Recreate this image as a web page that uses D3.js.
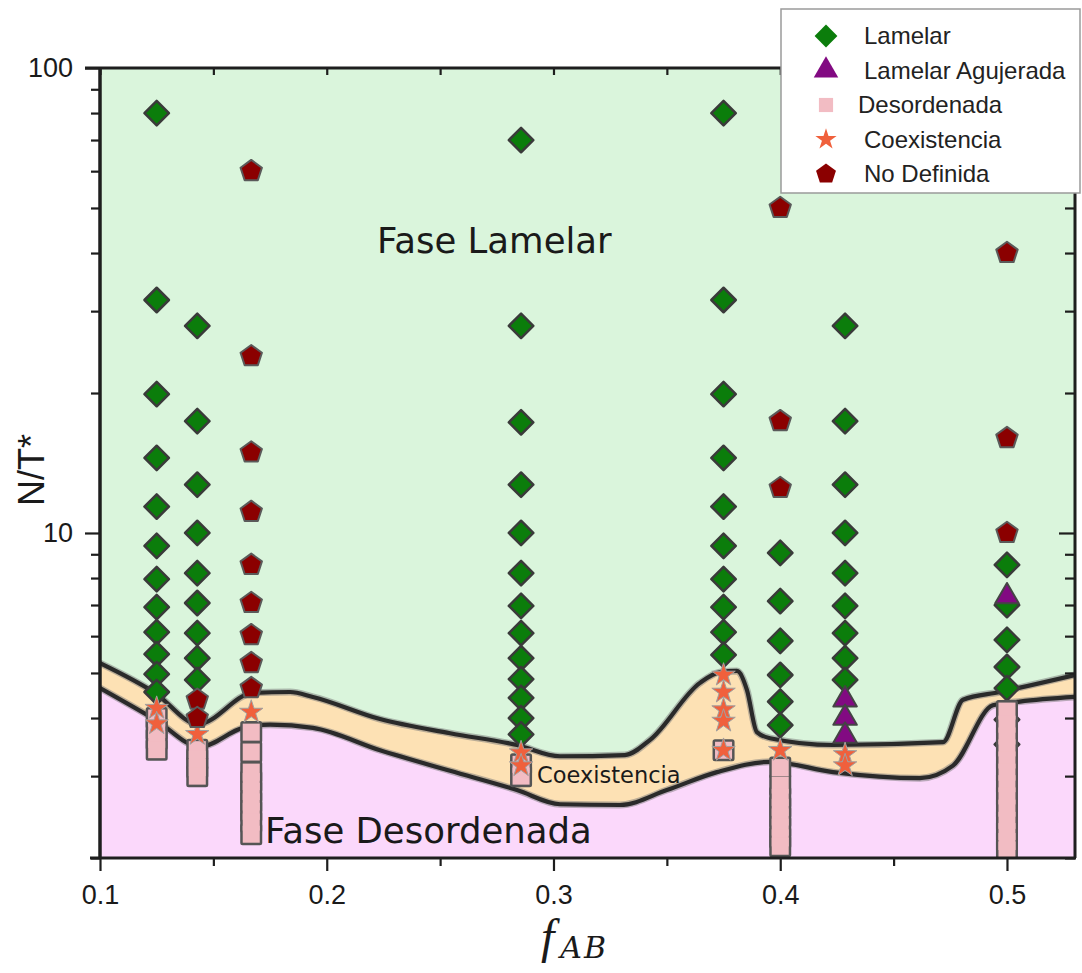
<!DOCTYPE html>
<html><head><meta charset="utf-8">
<script src="https://cdn.jsdelivr.net/npm/d3@7"></script>
<style>
html,body{margin:0;padding:0;background:#fff;}
svg{display:block;}
</style></head>
<body>
<svg id="chart" width="1082" height="973"></svg>
<script>
// ---------------- data ----------------
const lamelar = [
  [0.125,80],[0.125,31.7],[0.125,19.9],[0.125,14.5],[0.125,11.4],[0.125,9.38],[0.125,7.96],[0.125,6.93],[0.125,6.12],[0.125,5.49],[0.125,4.97],[0.125,4.55],
  [0.1429,27.9],[0.1429,17.4],[0.1429,12.7],[0.1429,10],[0.1429,8.2],[0.1429,7.07],[0.1429,6.09],[0.1429,5.38],[0.1429,4.83],
  [0.2857,70],[0.2857,27.9],[0.2857,17.3],[0.2857,12.7],[0.2857,10],[0.2857,8.2],[0.2857,6.97],[0.2857,6.09],[0.2857,5.38],[0.2857,4.85],[0.2857,4.42],[0.2857,4.0],[0.2857,3.69],
  [0.375,80],[0.375,31.7],[0.375,19.9],[0.375,14.5],[0.375,11.4],[0.375,9.38],[0.375,7.96],[0.375,6.93],[0.375,6.12],[0.375,5.47],
  [0.4,9.06],[0.4,7.14],[0.4,5.86],[0.4,4.95],[0.4,4.34],[0.4,3.86],
  [0.4286,27.9],[0.4286,17.4],[0.4286,12.7],[0.4286,10],[0.4286,8.2],[0.4286,6.97],[0.4286,6.09],[0.4286,5.38],[0.4286,4.83],
  [0.5,8.54],[0.5,7.0],[0.5,5.89],[0.5,5.15],[0.5,4.64],[0.5,3.97],[0.5,3.51]
];
const lamelarAgujerada = [
  [0.4286,4.38],[0.4286,4.0],[0.4286,3.66],
  [0.5,7.3]
];
const desordenada = [
  [0.125,4.0],[0.125,3.78],[0.125,3.6],[0.125,3.42],
  [0.1429,3.42],[0.1429,3.26],[0.1429,3.13],[0.1429,3.0],
  [0.1667,3.73],[0.1667,3.38],[0.1667,3.06],[0.1667,2.92],[0.1667,2.78],[0.1667,2.64],[0.1667,2.52],[0.1667,2.39],[0.1667,2.25],
  [0.2857,3.18],[0.2857,3.0],
  [0.375,3.41],
  [0.4,3.13],[0.4,2.87],[0.4,2.70],[0.4,2.57],[0.4,2.45],[0.4,2.33],[0.4,2.21],[0.4,2.12],
  [0.5,4.14],[0.5,3.88],[0.5,3.66],[0.5,3.45],[0.5,3.25],[0.5,3.06],[0.5,2.89],[0.5,2.72],[0.5,2.56],[0.5,2.41],[0.5,2.28],[0.5,2.17],[0.5,2.08]
];
const coexistencia = [
  [0.125,4.20],[0.125,3.89],
  [0.1429,3.69],
  [0.1667,4.12],
  [0.2857,3.37],[0.2857,3.16],
  [0.375,4.95],[0.375,4.55],[0.375,4.17],[0.375,3.94],[0.375,3.41],
  [0.4,3.41],
  [0.4286,3.34],[0.4286,3.16]
];
const noDefinida = [
  [0.1429,4.38],[0.1429,4.0],
  [0.1667,60],[0.1667,24],[0.1667,14.9],[0.1667,11.1],[0.1667,8.54],[0.1667,7.07],[0.1667,6.03],[0.1667,5.25],[0.1667,4.64],
  [0.4,50],[0.4,17.4],[0.4,12.5],
  [0.5,40],[0.5,16],[0.5,10]
];
// phase boundaries (f, N/T*)
const upperBoundary = [
  [0.1,5.25],[0.1243,4.53],[0.1432,3.88],[0.1675,4.53],[0.1838,4.55],[0.1939,4.44],[0.2235,3.98],[0.2544,3.71],
  [0.2839,3.50],[0.3029,3.31],[0.3315,3.33],[0.3426,3.59],[0.3646,4.76],[0.3734,5.02],[0.3809,5.05],[0.3853,4.60],
  [0.3897,3.73],[0.3955,3.62],[0.4233,3.50],[0.4718,3.55],[0.4806,4.38],[0.4969,4.55],[0.53,4.95]
];
const lowerBoundary = [
  [0.1,4.64],[0.1243,3.97],[0.1441,3.47],[0.1631,3.81],[0.175,3.87],[0.1939,3.81],[0.2235,3.41],[0.2544,3.08],
  [0.2839,2.80],[0.3029,2.61],[0.3293,2.60],[0.35,2.80],[0.3721,3.06],[0.3955,3.22],[0.4233,3.06],[0.4616,2.97],
  [0.4762,3.16],[0.4938,4.26],[0.5057,4.34],[0.53,4.44]
];
const xTicks = [0.1,0.2,0.3,0.4,0.5];
const xMinorTicks = [0.15,0.25,0.35,0.45];
const yTicks = [10,100];
const yMinorTicks = [2,3,4,5,6,7,8,9,20,30,40,50,60,70,80,90];
const legendItems = ["Lamelar","Lamelar Agujerada","Desordenada","Coexistencia","No Definida"];

// ---------------- layout ----------------
const L=100, R=1075, T=68, B=858;
const svg = d3.select("#chart");
const x = d3.scaleLinear().domain([0.1,0.53]).range([L,R]);
const y = d3.scaleLog().domain([2,100]).range([B,T]);

const cGreen="#daf5dc", cPeach="#fde1b4", cPink="#fbd8fb";

svg.append("defs").append("clipPath").attr("id","plotclip")
  .append("rect").attr("x",L).attr("y",T).attr("width",R-L).attr("height",B-T);

const g = svg.append("g").attr("clip-path","url(#plotclip)");
g.append("rect").attr("x",L).attr("y",T).attr("width",R-L).attr("height",B-T).attr("fill",cGreen);

const curve = d3.curveMonotoneX;
const areaGen = d3.area().x(d=>x(d[0])).y0(B).y1(d=>y(d[1])).curve(curve);
g.append("path").datum(upperBoundary).attr("d",areaGen).attr("fill",cPeach);
g.append("path").datum(lowerBoundary).attr("d",areaGen).attr("fill",cPink);
const line = d3.line().x(d=>x(d[0])).y(d=>y(d[1])).curve(curve);
[upperBoundary,lowerBoundary].forEach(b=>{
  g.append("path").datum(b).attr("d",line).attr("fill","none").attr("stroke","#777").attr("stroke-width",7).attr("stroke-opacity",0.5);
  g.append("path").datum(b).attr("d",line).attr("fill","none").attr("stroke","#2a2a2a").attr("stroke-width",4.2);
});

// region labels
g.append("text").attr("x",377).attr("y",253).text("Fase Lamelar")
  .attr("font-family","DejaVu Sans").attr("font-size",35.5).attr("fill","#1a1a1a");
g.append("text").attr("x",265).attr("y",843).text("Fase Desordenada")
  .attr("font-family","DejaVu Sans").attr("font-size",35.5).attr("fill","#1a1a1a");
g.append("text").attr("x",537).attr("y",783).text("Coexistencia")
  .attr("font-family","DejaVu Sans").attr("font-size",22.5).attr("fill","#1a1a1a");

// ---------------- symbols ----------------
const diamondSym = {draw(ctx,size){const r=Math.sqrt(size/2);ctx.moveTo(0,-r);ctx.lineTo(r,0);ctx.lineTo(0,r);ctx.lineTo(-r,0);ctx.closePath();}};
const pentagonSym = {draw(ctx,size){const r=Math.sqrt(size/2.378);for(let i=0;i<5;i++){const a=-Math.PI/2+i*2*Math.PI/5;const px=r*Math.cos(a),py=r*Math.sin(a);if(i===0)ctx.moveTo(px,py);else ctx.lineTo(px,py);}ctx.closePath();}};
const sqSym = {draw(ctx,size){const s=Math.sqrt(size)/2;ctx.moveTo(-s,-s);ctx.lineTo(s,-s);ctx.lineTo(s,s);ctx.lineTo(-s,s);ctx.closePath();}};

const styles = {
  "Lamelar":{sym:diamondSym,size:300,fill:"#0b7d0b",stroke:"#3a3a3a",sw:2.5,data:lamelar},
  "Lamelar Agujerada":{sym:d3.symbolTriangle,size:240,fill:"#820a82",stroke:"#444",sw:2,data:lamelarAgujerada},
  "Desordenada":{sym:sqSym,size:290,fill:"#f2bcc3",stroke:"#555",sw:5,data:desordenada},
  "Coexistencia":{sym:d3.symbolStar,size:170,fill:"#f0603c",stroke:"#a0a0a0",sw:1,data:coexistencia},
  "No Definida":{sym:pentagonSym,size:300,fill:"#8b0000",stroke:"#5a5a5a",sw:2,data:noDefinida}
};
const drawOrder = ["Lamelar","Lamelar Agujerada","Desordenada","Coexistencia","No Definida"];
drawOrder.forEach(k=>{
  const s=styles[k];
  const sg = g.append("g");
  sg.selectAll("path.m").data(s.data).join("path").attr("class","m")
    .attr("transform",d=>`translate(${x(d[0])},${y(d[1])})`)
    .attr("d",d3.symbol().type(s.sym).size(s.size))
    .attr("fill",s.fill).attr("stroke",s.stroke).attr("stroke-width",s.sw).attr("stroke-linejoin","round");
  if(k==="Desordenada"){
    // fill-only layer so stacked squares merge into one outlined bar
    sg.selectAll("path.f").data(s.data).join("path").attr("class","f")
      .attr("transform",d=>`translate(${x(d[0])},${y(d[1])})`)
      .attr("d",d3.symbol().type(s.sym).size(s.size))
      .attr("fill",s.fill);
  }
});

// ---------------- axes ----------------
const axCol="#1e1e1e";
function styleAxis(sel){sel.select(".domain").remove();sel.selectAll("line").attr("stroke",axCol).attr("stroke-width",2.2);}
const fmtX = d3.format(".1f");
const xb = svg.append("g").attr("transform",`translate(0,${B})`)
  .call(d3.axisBottom(x).tickValues(xTicks).tickFormat(fmtX).tickSize(13).tickPadding(14));
styleAxis(xb);
xb.selectAll("text").attr("font-family","Liberation Sans, Arial").attr("font-size",27).attr("fill","#1a1a1a");
const xbm = svg.append("g").attr("transform",`translate(0,${B})`)
  .call(d3.axisBottom(x).tickValues(xMinorTicks).tickFormat("").tickSize(8));
styleAxis(xbm);
const xt = svg.append("g").attr("transform",`translate(0,${T})`)
  .call(d3.axisBottom(x).tickValues(xTicks.concat(xMinorTicks)).tickFormat("").tickSize(7));
styleAxis(xt);

const yl = svg.append("g").attr("transform",`translate(${L},0)`)
  .call(d3.axisLeft(y).tickValues(yTicks).tickFormat(d3.format("d")).tickSize(15).tickPadding(12));
styleAxis(yl);
yl.selectAll("text").attr("font-family","Liberation Sans, Arial").attr("font-size",27).attr("fill","#1a1a1a");
const ylm = svg.append("g").attr("transform",`translate(${L},0)`)
  .call(d3.axisLeft(y).tickValues(yMinorTicks).tickFormat("").tickSize(9));
styleAxis(ylm);
const yr = svg.append("g").attr("transform",`translate(${R},0)`)
  .call(d3.axisLeft(y).tickValues(yTicks).tickFormat("").tickSize(16));
styleAxis(yr);
const yrm = svg.append("g").attr("transform",`translate(${R},0)`)
  .call(d3.axisLeft(y).tickValues(yMinorTicks).tickFormat("").tickSize(10));
styleAxis(yrm);

// frame
svg.append("line").attr("x1",L).attr("x2",L).attr("y1",T).attr("y2",B+1).attr("stroke",axCol).attr("stroke-width",3.5);
svg.append("line").attr("x1",L-10).attr("x2",R+1).attr("y1",B).attr("y2",B).attr("stroke",axCol).attr("stroke-width",3);
svg.append("line").attr("x1",L-15).attr("x2",R).attr("y1",T).attr("y2",T).attr("stroke",axCol).attr("stroke-width",3);
svg.append("line").attr("x1",R).attr("x2",R).attr("y1",T).attr("y2",B).attr("stroke",axCol).attr("stroke-width",3);

// axis titles
svg.append("text").attr("transform","translate(44,470) rotate(-90)").attr("text-anchor","middle")
  .attr("font-family","Liberation Sans, Arial").attr("font-size",36).attr("fill","#1a1a1a").text("N/T*");
const xl = svg.append("text").attr("x",541).attr("y",953).attr("text-anchor","start")
  .attr("font-style","italic").attr("fill","#1a1a1a");
xl.append("tspan").attr("font-family","Liberation Serif").attr("font-size",48).text("f");
xl.append("tspan").attr("font-family","DejaVu Serif").attr("font-size",30).attr("dx",6).attr("dy",5).attr("letter-spacing",2).text("AB");

// ---------------- legend ----------------
const lg = svg.append("g");
lg.append("rect").attr("x",781).attr("y",9).attr("width",299).attr("height",184)
  .attr("fill","#fff").attr("stroke","#9a9a9a").attr("stroke-width",1.5);
const legStep = 34.5, leg0 = 36;
legendItems.forEach((k,i)=>{
  const s=styles[k];
  const cy = leg0 + i*legStep;
  lg.append("path").attr("transform",`translate(826,${cy})`)
    .attr("d",d3.symbol().type(s.sym).size(k==="Coexistencia"?140:(k==="Desordenada"?200:260)))
    .attr("fill",s.fill);
  lg.append("text").attr("x",k==="Desordenada"?858:864).attr("y",cy+8).text(k)
    .attr("font-family","Liberation Sans, Arial").attr("font-size",24).attr("fill","#222");
});
</script>
</body></html>
